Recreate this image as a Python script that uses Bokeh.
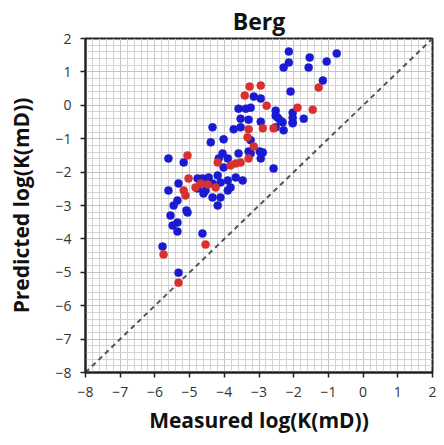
from bokeh.plotting import figure
from bokeh.models import ColumnDataSource, FixedTicker, Range1d
from bokeh.embed import file_html
from bokeh.resources import INLINE

# Data (measured vs predicted log permeability)
blue_x = [-2.14, -1.54, -0.76, -1.05, -2.14, -2.29, -1.57, -1.16, -2.09, -3.15, -2.95, -3.59, -3.38, -3.24,
          -2.52, -2.03, -2.03, -1.71, -2.46, -3.30, -2.95, -2.32, -4.34, -3.73, -3.53, -2.29, -3.24, -4.02,
          -4.39, -5.61, -5.17, -4.05, -3.59, -3.30, -2.98, -2.95, -3.90, -4.16, -4.02, -2.58, -4.19, -4.45,
          -4.63, -4.77, -4.34, -4.11, -3.90, -3.82, -3.47, -3.67, -5.32, -5.61, -5.35, -5.46, -5.09, -4.34,
          -4.11, -4.19, -3.90, -4.77, -4.54, -4.60, -5.55, -5.35, -5.49, -5.35, -5.06, -4.63, -5.78, -5.32,
          -2.52, -2.38, -2.52, -2.89, -2.03, -2.03, -3.53, -3.24]
blue_y = [1.61, 1.43, 1.55, 1.31, 1.28, 1.13, 1.13, 0.74, 0.41, 0.26, 0.20, -0.10, -0.10, -0.07,
          -0.16, -0.22, -0.51, -0.40, -0.37, -0.43, -0.49, -0.51, -0.66, -0.72, -0.66, -0.75, -1.05, -1.02,
          -1.11, -1.59, -1.71, -1.44, -1.44, -1.38, -1.38, -1.59, -1.59, -1.59, -1.86, -1.89, -2.10, -2.16,
          -2.19, -2.19, -2.34, -2.31, -2.25, -2.46, -2.25, -2.16, -2.34, -2.55, -2.85, -3.00, -3.15, -2.76,
          -2.76, -3.00, -2.55, -2.49, -2.55, -2.64, -3.30, -3.51, -3.60, -3.78, -3.21, -3.84, -4.23, -5.01,
          -0.31, -0.46, -0.66, -1.41, -0.37, -0.54, -0.40, -1.44]
red_x = [-1.28, -3.27, -2.95, -3.41, -2.78, -1.89, -1.45, -3.30, -2.89, -2.58, -3.33, -3.15, -5.06,
         -3.30, -4.19, -3.82, -3.67, -3.53, -5.03, -4.68, -4.48, -4.83, -4.25, -5.17, -5.12, -4.54,
         -5.75, -5.32]
red_y = [0.53, 0.56, 0.59, 0.29, -0.01, -0.07, -0.13, -0.72, -0.69, -0.69, -0.96, -1.23, -1.50,
         -1.59, -1.71, -1.80, -1.74, -1.71, -2.19, -2.34, -2.37, -2.46, -2.46, -2.55, -2.70, -4.17,
         -4.47, -5.31]
line_ends = [-8, 2]
ticks = list(range(-8, 3))

FONT = "Open Sans"

p = figure(width=436, height=437, output_backend="svg", toolbar_location=None,
           x_range=Range1d(-8, 2), y_range=Range1d(-8, 2),
           min_border_left=85, min_border_right=4, min_border_top=38, min_border_bottom=65,
           title="Berg")

p.title.align = "center"
p.title.text_font = FONT
p.title.text_font_size = "23px"
p.title.text_font_style = "bold"
p.title.text_color = "#111111"
p.title.offset = 0
p.title.standoff = 4

p.outline_line_color = "#222222"
p.outline_line_width = 2

for ax in (p.xaxis, p.yaxis):
    ax.ticker = FixedTicker(ticks=ticks, minor_ticks=[t / 5 for t in range(-40, 11)])
    ax.axis_line_color = "#222222"
    ax.axis_line_width = 2
    ax.major_tick_line_color = "#222222"
    ax.major_tick_line_width = 1.5
    ax.major_tick_out = 5
    ax.major_tick_in = 0
    ax.minor_tick_line_color = None
    ax.major_label_text_font = FONT
    ax.major_label_text_font_size = "14px"
    ax.major_label_text_color = "#333333"
    ax.axis_label_text_font = FONT
    ax.axis_label_text_font_size = "21px"
    ax.axis_label_text_font_style = "bold"
    ax.axis_label_text_color = "#111111"

p.xaxis.axis_label = "Measured log(K(mD))"
p.yaxis.axis_label = "Predicted log(K(mD))"
p.xaxis.major_label_standoff = 9
p.yaxis.major_label_standoff = 9
p.xaxis.axis_label_standoff = 6
p.yaxis.axis_label_standoff = 17

for g in (p.xgrid, p.ygrid):
    g.grid_line_color = "#c4c4c4"
    g.grid_line_width = 1
    g.minor_grid_line_color = "#d4d4d4"
    g.minor_grid_line_width = 1

p.line(line_ends, line_ends, line_color="#555555", line_width=2, line_dash="5 4")

bsrc = ColumnDataSource(dict(x=blue_x, y=blue_y))
rsrc = ColumnDataSource(dict(x=red_x, y=red_y))
p.scatter("x", "y", source=bsrc, size=8, fill_color="#1a1ad0", line_color="#1a1ad0", line_width=0.5)
p.scatter("x", "y", source=rsrc, size=8, fill_color="#d83030", line_color="#d83030", line_width=0.5)

open("out.html", "w").write(file_html(p, INLINE))
